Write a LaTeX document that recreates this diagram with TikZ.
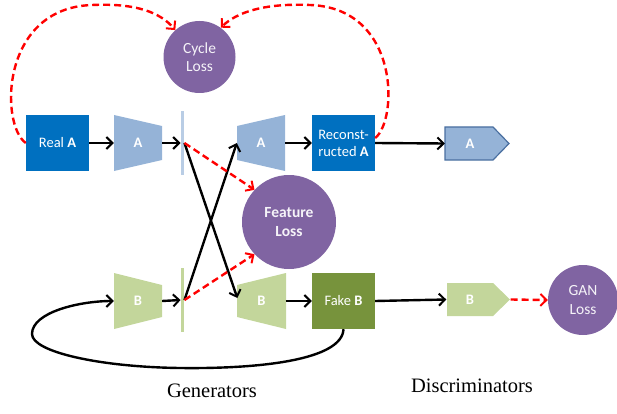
\documentclass[tikz,border=0pt]{standalone}
\usepackage{fontspec}
\setmainfont{Liberation Serif}
\newfontfamily\boxfont{Carlito}
\usetikzlibrary{arrows.meta,calc}
\definecolor{blueA}{HTML}{0070C0}
\definecolor{lblueA}{HTML}{95B3D7}
\definecolor{barblue}{HTML}{B9CDE5}
\definecolor{dblue}{HTML}{4A6FA0}
\definecolor{purp}{HTML}{8064A2}
\definecolor{lgreen}{HTML}{C3D69B}
\definecolor{dgreen}{HTML}{77933C}
\definecolor{lossred}{HTML}{FF0000}
\tikzset{
  sq/.style={rectangle, minimum width=63pt, minimum height=56pt, inner sep=0pt, text=white, align=center, font=\boxfont\fontsize{14.5}{17}\selectfont},
  gen/.style={rectangle, minimum width=48pt, minimum height=56pt, inner sep=0pt, text=white, font=\boxfont\bfseries\fontsize{14.5}{17}\selectfont},
  bar/.style={rectangle, minimum width=3.5pt, minimum height=64pt, inner sep=0pt},
  disc/.style={rectangle, minimum width=64pt, minimum height=33pt, inner sep=0pt},
  dlabel/.style={text=white, font=\boxfont\bfseries\fontsize{14.5}{17}\selectfont},
  loss/.style={circle, fill=purp, inner sep=0pt, text=white!92!purp, align=center, font=\boxfont\fontsize{15.5}{18.5}\selectfont},
  blk/.style={draw=black, line width=2.4pt, -{Straight Barb[length=6pt,width=12pt,line width=2pt]}},
  rdash/.style={draw=lossred, line width=2.4pt, dash pattern=on 7pt off 4pt, -{Straight Barb[length=6pt,width=12pt,line width=2pt]}},
}
\begin{document}
\begin{tikzpicture}[x=1pt,y=-1pt]
\useasboundingbox (0,0) rectangle (617,414);
% shapes of generators and discriminators
\fill[lblueA] (114,115) -- (162,126) -- (162,160) -- (114,171) -- cycle;
\fill[lblueA] (237,126) -- (285,115) -- (285,171) -- (237,160) -- cycle;
\fill[lgreen] (114,273) -- (162,285) -- (162,317) -- (114,329) -- cycle;
\fill[lgreen] (237,285) -- (286,273) -- (286,329) -- (237,317) -- cycle;
\filldraw[fill=lblueA, draw=dblue, line width=1.2pt] (445,127) -- (493,127) -- (509,143.5) -- (493,160) -- (445,160) -- cycle;
\fill[lgreen] (447,283) -- (493,283) -- (510,299.5) -- (493,316) -- (447,316) -- cycle;
% nodes
\node[sq, fill=blueA] (realA) at (57.5,143) {Real \textbf{A}};
\node[gen] (encA) at (138,143) {A};
\node[bar, fill=barblue] (barA) at (182.5,143) {};
\node[gen] (decA) at (261,143) {A};
\node[sq, fill=blueA] (recA) at (343.5,143) {Reconst-\\ructed \textbf{A}};
\node[disc] (discA) at (477,143.5) {};
\node[dlabel] (discAl) at (470,143.5) {A};
\node[loss, minimum size=72pt] (cyc) at (199.5,57) {Cycle\\Loss};
\node[loss, minimum size=94pt, font=\boxfont\bfseries\fontsize{15.5}{18.5}\selectfont] (feat) at (289,222) {Feature\\Loss};
\node[gen] (encB) at (138,301) {B};
\node[bar, fill=lgreen] (barB) at (182.5,300) {};
\node[gen] (decB) at (261.5,301) {B};
\node[sq, fill=dgreen] (fakeB) at (343.5,301) {Fake \textbf{B}};
\node[disc] (discB) at (478.5,299.5) {};
\node[dlabel] (discBl) at (470,299.5) {B};
\node[loss, minimum size=70pt] (gan) at (583,300) {GAN\\Loss};
\node[font=\fontsize{20.5}{24}\selectfont] (genl) at (212,391) {Generators};
\node[font=\fontsize{20.5}{24}\selectfont] (discl) at (472,386) {Discriminators};
% black connectors
\draw[blk] (realA.east) -- (encA.west);
\draw[blk] (encA.east) -- (barA.west);
\draw[blk] (decA.east) -- (recA.west);
\draw[blk] (recA.east) -- (discA.west);
\draw[blk] (encB.east) -- (barB.west);
\draw[blk] (decB.east) -- (fakeB.west);
\draw[blk] (fakeB.east) -- (discB.west);
\draw[blk] (barA.east) -- ($(decB.west)+(0,-3)$);
\draw[blk] (barB.east) -- (decA.west);
\draw[blk] (fakeB.south) .. controls (342,360) and (260,369) .. (180,368)
  .. controls (100,367) and (32,352) .. (32,334)
  .. controls (32,312) and (80,301) .. (encB.west);
% red dashed connectors
\draw[rdash] (barA.east) -- (feat.137);
\draw[rdash] (barB.east) -- (feat.223);
\draw[rdash] (discB.east) -- (gan.west);
\draw[rdash] (realA.west) .. controls (0,125) and (0,8) .. (92,5)
  .. controls (135,3) and (160,12) .. (cyc.132);
\draw[rdash] ($(recA.east)+(0,-5)$) .. controls (398,120) and (400,8) .. (310,5)
  .. controls (265,3) and (237,12) .. (cyc.54);
\end{tikzpicture}
\end{document}
